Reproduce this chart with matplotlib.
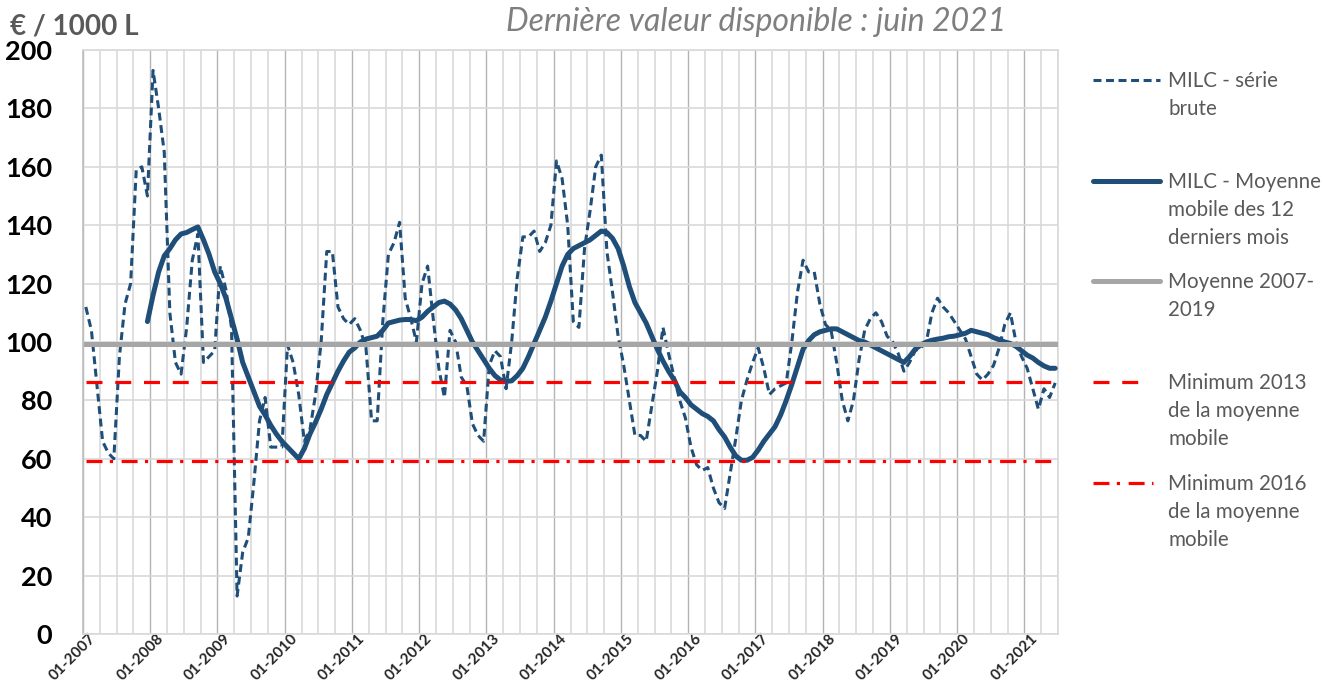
import matplotlib.pyplot as plt
import matplotlib.transforms as mtransforms
import numpy as np
from matplotlib.lines import Line2D

plt.rcParams['font.family'] = ['Lato', 'DejaVu Sans']

# MILC monthly values, 01-2007 .. 06-2021 (EUR / 1000 L)
raw = [
    112, 104, 85, 66, 62, 60, 95, 113, 120, 159, 160, 150,      # 2007
    193, 180, 165, 110, 93, 89, 105, 128, 137, 93, 95, 97,      # 2008
    126, 118, 105, 13, 28, 33, 52, 73, 81, 64, 64, 64,          # 2009
    99, 93, 82, 66, 70, 82, 100, 131, 131, 112, 108, 106,       # 2010
    108, 104, 98, 73, 73, 107, 130, 134, 141, 115, 108, 100,    # 2011
    120, 126, 108, 91, 81, 104, 100, 88, 85, 72, 68, 66,        # 2012
    92, 97, 95, 84, 100, 122, 136, 136, 138, 131, 134, 140,     # 2013
    162, 156, 140, 107, 105, 132, 145, 160, 164, 131, 117, 102, # 2014
    92, 80, 68, 68, 66, 78, 90, 105, 96, 88, 80, 74,            # 2015
    64, 58, 56, 57, 50, 45, 43, 55, 67, 80, 87, 93,             # 2016
    98, 91, 82, 84, 85, 86, 100, 117, 128, 124, 124, 113,       # 2017
    106, 104, 93, 80, 73, 80, 94, 104, 108, 110, 107, 102,      # 2018
    100, 96, 90, 93, 97, 98, 100, 110, 115, 112, 110, 107,      # 2019
    104, 101, 95, 89, 87, 89, 92, 98, 106, 110, 100, 95,        # 2020
    91, 84, 77, 84, 81, 86,                                     # 2021
]

# 12-month moving average, 12-2007 .. 06-2021
moving_avg = [
    107, 116, 124, 129.5, 132, 135, 137, 137.5, 138.5, 139.4, 135, 130, 124,
    120, 115, 108, 101, 93, 88, 83, 78, 75, 71.5, 68.5, 66,
    64, 62, 60, 63.5, 68.5, 72.5, 77, 82, 86, 90, 93.5, 96.5,
    98, 100, 101, 101.5, 102, 104, 106.5, 107, 107.5, 107.7, 107.7, 107.3,
    108.5, 110.5, 112, 113.5, 114, 113, 111, 108, 104, 100, 97, 94,
    91, 88.5, 87, 86.5, 86.7, 88.5, 91, 95, 99.5, 104, 108.5, 114,
    120, 126, 130, 132, 133, 134, 135, 136.5, 138, 137.5, 135.5, 132,
    126, 119, 113.5, 110, 106.5, 102, 97.5, 93.5, 90, 87, 83, 81,
    78.5, 77, 75.5, 74.5, 73, 70, 67.5, 64, 61, 59.5, 59.5, 60.5,
    63, 66, 68.5, 71, 75, 80, 85.5, 91.5, 97.5, 100.5, 102.5, 103.5,
    104, 104.5, 104.5, 103.5, 102.5, 101.5, 100.5, 100, 99, 98, 97, 96,
    95, 94, 93, 95, 97.5, 99, 100, 100.6, 101, 101.3, 101.8, 102,
    102.5, 103, 104, 103.5, 103, 102.5, 101.5, 100.8, 100, 99.5, 98.5, 97,
    95.5, 94.5, 93, 91.8, 91, 91,
]

mean_2007_2019 = 99.3
min_2013 = 86.3
min_2016 = 59.4

years = list(range(2007, 2022))
tick_labels = [f"01-{y}" for y in years]

BLUE = "#1f4e79"
RED = "#ff0000"
GREY = "#a6a6a6"
TXT = "#595959"

RAW_STYLE = dict(color=BLUE, lw=2.2, dashes=(2.6, 1.5))
MA_STYLE = dict(color=BLUE, lw=3.6, solid_capstyle="round")
MEAN_STYLE = dict(color=GREY, lw=3.6)
MIN13_STYLE = dict(color=RED, lw=2.3, dashes=(5, 4))
MIN16_STYLE = dict(color=RED, lw=2.3, dashes=(5, 2.3, 1, 2.7))

months = np.arange(len(raw)) + 0.5
ma_months = months[len(raw) - len(moving_avg):]

W, H = 1323, 692
fig = plt.figure(figsize=(W / 100, H / 100), dpi=100)
ax = fig.add_axes([83 / W, 1 - 634 / H, 975 / W, 584 / H])

ax.plot(months, raw, zorder=3, **RAW_STYLE)
ax.plot(ma_months, moving_avg, zorder=4, **MA_STYLE)
ax.plot(months, [mean_2007_2019] * len(months), zorder=5, **MEAN_STYLE)
ax.plot(months, [min_2013] * len(months), zorder=6, **MIN13_STYLE)
ax.plot(months, [min_2016] * len(months), zorder=6, **MIN16_STYLE)

ax.set_xlim(0, len(raw))
ax.set_ylim(0, 200)
ax.set_yticks(np.arange(0, 201, 20))
ax.set_xticks(np.arange(0, len(raw) + 1, 12)[:len(years)])
ax.set_xticks(np.arange(0, len(raw) + 1, 3), minor=True)
ax.set_xticklabels(tick_labels, rotation=45, ha="right", rotation_mode="anchor",
                   fontsize=11, fontweight="bold", color="#262626")
ax.tick_params(axis="x", which="both", length=0, pad=1)
ax.tick_params(axis="y", length=0, pad=22, labelsize=19.5)
for lab in ax.get_yticklabels():
    lab.set_fontweight("bold")
# nudge the slanted date labels so their end sits just right of the year line
shift = mtransforms.ScaledTranslation(6 / 100, 4 / 100, fig.dpi_scale_trans)
for lab in ax.get_xticklabels():
    lab.set_transform(lab.get_transform() + shift)

ax.grid(axis="y", color="#d9d9d9", lw=1.2, zorder=0)
ax.grid(axis="x", which="minor", color="#d9d9d9", lw=1.2, zorder=0)
ax.grid(axis="x", which="major", color="#b3b3b3", lw=1.0, zorder=1)
ax.set_axisbelow(True)
for s in ax.spines.values():
    s.set_color("#d9d9d9")
    s.set_linewidth(1.2)
ax.spines["left"].set_color("#bfbfbf")

fig.text(10 / W, 1 - 27 / H, "€ / 1000 L", ha="left", va="center",
         fontsize=20, fontweight="bold", color=TXT)
fig.text(756 / W, 1 - 22 / H, "Dernière valeur disponible : juin 2021",
         ha="center", va="center", fontsize=23, style="italic", color="#7f7f7f")

# legend, drawn by hand to keep the Excel look
entries = [
    (["MILC - série", "brute"], 80, RAW_STYLE, 1160),
    (["MILC - Moyenne", "mobile des 12", "derniers mois"], 181, MA_STYLE, 1160),
    (["Moyenne 2007-", "2019"], 281, dict(MEAN_STYLE, solid_capstyle="round"), 1160),
    (["Minimum 2013", "de la moyenne", "mobile"], 382, MIN13_STYLE, 1150),
    (["Minimum 2016", "de la moyenne", "mobile"], 483, MIN16_STYLE, 1153),
]
for lines, y0, style, xend in entries:
    fig.add_artist(Line2D([1093 / W, xend / W], [1 - y0 / H, 1 - y0 / H],
                          transform=fig.transFigure, **style))
    for i, t in enumerate(lines):
        fig.text(1168 / W, 1 - (y0 + 7 + i * 28) / H, t, ha="left", va="baseline",
                 fontsize=14.8, color=TXT)

fig.savefig("out.png", dpi=100)
